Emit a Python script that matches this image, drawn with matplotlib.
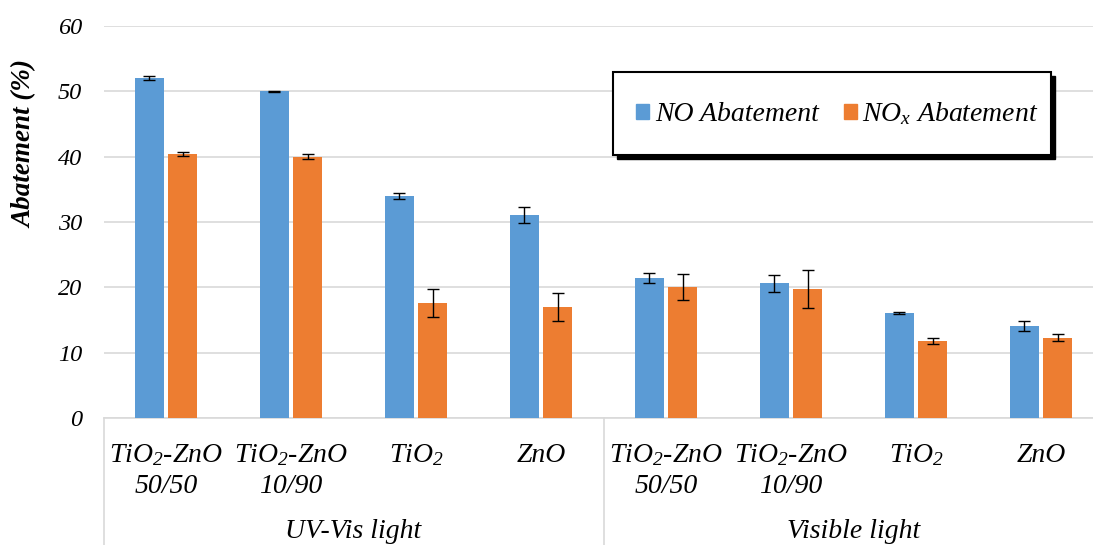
import matplotlib
matplotlib.use("Agg")
import matplotlib.pyplot as plt
import numpy as np
from matplotlib.patches import Rectangle, Patch
from matplotlib.lines import Line2D
from matplotlib.transforms import blended_transform_factory

plt.rcParams["font.family"] = "Liberation Serif"
plt.rcParams["mathtext.fontset"] = "custom"
plt.rcParams["mathtext.rm"] = "Liberation Serif:italic"
plt.rcParams["mathtext.it"] = "Liberation Serif:italic"

# Data
categories_line1 = ["TiO$_2$-ZnO", "TiO$_2$-ZnO", "TiO$_2$", "ZnO",
                    "TiO$_2$-ZnO", "TiO$_2$-ZnO", "TiO$_2$", "ZnO"]
categories_line2 = ["50/50", "10/90", "", "", "50/50", "10/90", "", ""]
groups = ["UV-Vis light", "Visible light"]
no_abatement = [52.0, 50.0, 34.0, 31.1, 21.4, 20.6, 16.1, 14.1]
no_err = [0.3, 0.1, 0.5, 1.2, 0.8, 1.3, 0.2, 0.8]
nox_abatement = [40.4, 40.0, 17.6, 17.0, 20.1, 19.8, 11.8, 12.3]
nox_err = [0.3, 0.4, 2.2, 2.2, 2.0, 2.9, 0.45, 0.5]
y_ticks = [0, 10, 20, 30, 40, 50, 60]

BLUE = "#5B9BD5"
ORANGE = "#ED7D31"
GRID = "#D9D9D9"

W, H = 1093, 545
fig = plt.figure(figsize=(W / 100, H / 100), dpi=100)

# axes geometry in pixels
x0, x1 = 103.5, 1103.5
y0, y1 = 418, 26
ax = fig.add_axes([x0 / W, (H - y0) / H, (x1 - x0) / W, (y0 - y1) / H])

n = len(no_abatement)
x = np.arange(n)
bw = 0.232
off = 0.134
ax.bar(x - off, no_abatement, bw, color=BLUE, zorder=3)
ax.bar(x + off, nox_abatement, bw, color=ORANGE, zorder=3)
ax.errorbar(x - off, no_abatement, yerr=no_err, fmt="none", ecolor="black",
            elinewidth=1, capsize=4, capthick=1, zorder=4)
ax.errorbar(x + off, nox_abatement, yerr=nox_err, fmt="none", ecolor="black",
            elinewidth=1, capsize=4, capthick=1, zorder=4)

ax.set_xlim(-0.5, n - 0.5)
ax.set_ylim(0, 60)
ax.set_yticks(y_ticks)
ax.set_yticklabels([str(t) for t in y_ticks], fontsize=17.5, style="italic")
ax.tick_params(axis="y", length=0, pad=15.5)
ax.set_xticks([])
ax.yaxis.grid(True, color=GRID, linewidth=1.2, zorder=0)
ax.set_axisbelow(True)
for s in ["left", "right", "top"]:
    ax.spines[s].set_visible(False)
ax.spines["bottom"].set_color(GRID)
ax.spines["bottom"].set_linewidth(1.2)

# y-axis title
fig.text(25 / W, 1 - 144 / H, "Abatement (%)", rotation=90, ha="center",
         va="center", fontsize=19.5, style="italic", fontweight="bold")

# category labels below the axis
tr = blended_transform_factory(ax.transData, fig.transFigure)
for i in range(n):
    ax.text(i, 1 - 462 / H, categories_line1[i], transform=tr, ha="center",
            va="baseline", fontsize=20, style="italic")
    if categories_line2[i]:
        ax.text(i, 1 - 493 / H, categories_line2[i], transform=tr, ha="center",
                va="baseline", fontsize=20, style="italic")

# group labels and separators
for g, name in enumerate(groups):
    ax.text(g * 4 + 1.5, 1 - 538 / H, name, transform=tr, ha="center",
            va="baseline", fontsize=20, style="italic")
for xs in [-0.5, 3.5, 7.5]:
    fig.add_artist(Line2D([xs, xs], [1 - y0 / H, 0], transform=tr,
                          color=GRID, linewidth=1.2))

# legend box with drop shadow
bx0, bx1, by0, by1 = 613, 1051, 72, 155
sh = 4
fig.add_artist(Rectangle(((bx0 + sh) / W, 1 - (by1 + sh) / H),
                         (bx1 - bx0) / W, (by1 - by0) / H,
                         transform=fig.transFigure, facecolor="black",
                         edgecolor="black", zorder=5))
fig.add_artist(Rectangle((bx0 / W, 1 - by1 / H), (bx1 - bx0) / W,
                         (by1 - by0) / H, transform=fig.transFigure,
                         facecolor="white", edgecolor="black", linewidth=1.5,
                         zorder=6))
handles = [Patch(color=BLUE), Patch(color=ORANGE)]
leg = fig.legend(handles, ["NO Abatement", "NO$_x$ Abatement"],
                 loc="center", bbox_to_anchor=(837.5 / W, 1 - 114 / H),
                 ncol=2, frameon=False,
                 prop={"style": "italic", "size": 20},
                 handlelength=0.47, handleheight=0.47, handletextpad=0.2,
                 columnspacing=0.9, borderpad=0, borderaxespad=0)
leg.set_zorder(7)

fig.savefig("out.png", dpi=100)
